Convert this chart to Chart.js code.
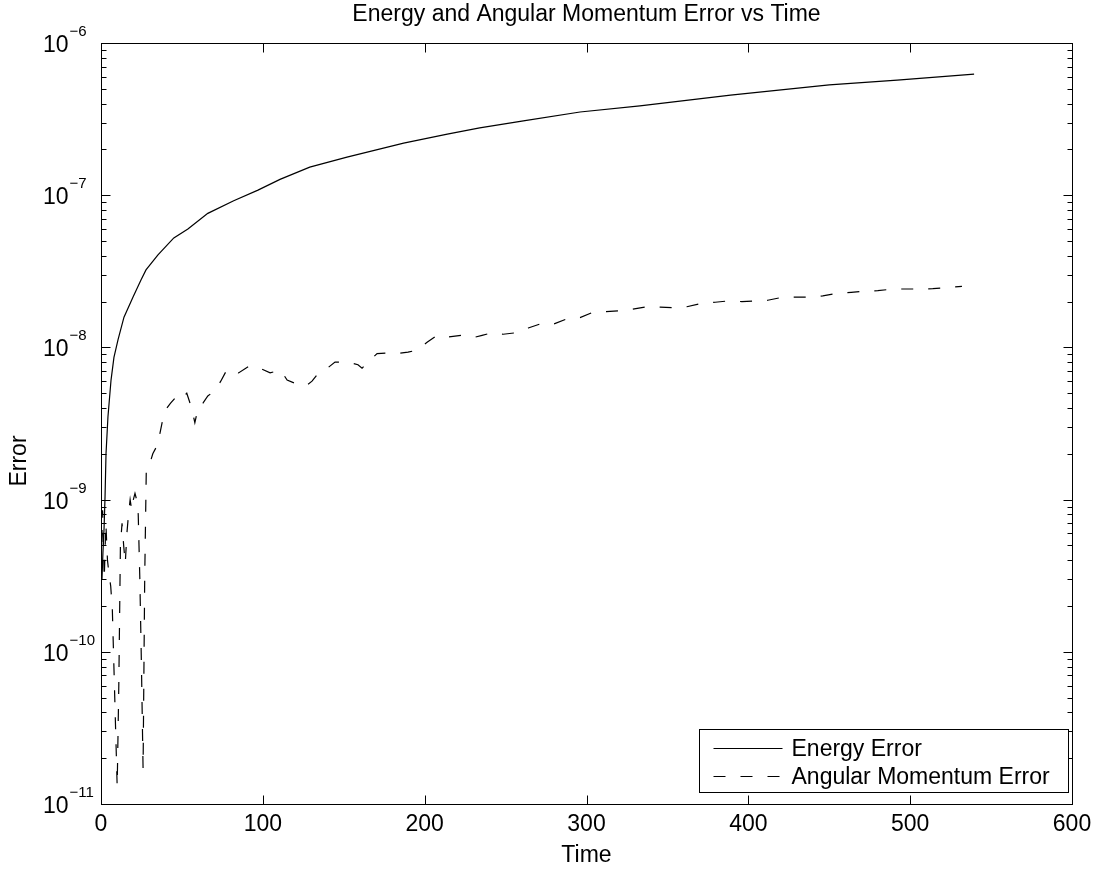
<!DOCTYPE html>
<html lang="en">
<head>
<meta charset="UTF-8">
<title>Energy and Angular Momentum Error vs Time</title>
<style>
  html, body { margin: 0; padding: 0; background: #fff; }
  #wrap { width: 1094px; height: 871px; }
</style>
</head>
<body>
<div id="wrap"><canvas id="errChart" width="1094" height="871"></canvas></div>

<script src="https://cdn.jsdelivr.net/npm/chart.js@4.4.0/dist/chart.umd.min.js"></script>
<script>
  // values
  const energyTime = [0.6, 1.2, 1.9, 2.5, 3.1, 4.3, 6.2, 8, 10.5, 14.2, 19.8, 24.7, 27.8, 35.2, 45, 53.7, 66, 82, 97,
    110.6, 129, 152, 187, 214, 234, 261, 296, 333, 389, 450, 492, 539.5];
  const energyError = [3e-10, 4.5e-10, 6.5e-10, 1.05e-9, 2.0e-9, 3.5e-9, 6.1e-9, 8.6e-9, 1.12e-8, 1.58e-8, 2.14e-8,
    2.77e-8, 3.23e-8, 4.05e-8, 5.24e-8, 6.0e-8, 7.6e-8, 9.2e-8, 1.08e-7, 1.27e-7, 1.53e-7, 1.78e-7, 2.2e-7,
    2.52e-7, 2.77e-7, 3.08e-7, 3.52e-7, 3.86e-7, 4.55e-7, 5.3e-7, 5.71e-7, 6.25e-7];

  const angTime = [0, 1, 2, 3, 4, 5, 6, 7, 8.5, 10, 11, 12, 13, 14, 15, 16, 17, 18, 19, 20, 21, 22, 23, 24, 25, 26, 27,
    28, 30, 32, 35, 38, 40, 43, 47, 50, 53, 56, 58, 60, 63, 66, 70.5, 74, 78, 85, 92, 97, 104.5, 111, 115, 120, 126.7,
    130.4, 133.5, 138.4, 144.6, 152.7, 158.8, 161.3, 163.8, 170.6, 176.8, 183, 189.7, 195.3, 201.5, 207.7, 214.5, 223,
    230, 235.5, 241.7, 248.5, 257, 264, 272.6, 279.4, 288.6, 296, 304, 321, 328, 337.5, 345.5, 354.8, 362, 371.4, 379.5,
    387.5, 396, 404.8, 412, 421.5, 430, 438, 446, 455.5, 463.5, 472.8, 480, 489.5, 497.5, 506, 514, 523.5, 532];
  const angError = [3.5e-10, 8.5e-10, 3e-10, 7e-10, 4e-10, 3.2e-10, 2.7e-10, 1.9e-10, 5e-11, 1.3e-11, 6e-11, 5e-10,
    7e-10, 5e-10, 3.8e-10, 6e-10, 8e-10, 1.0e-9, 8.5e-10, 1.0e-9, 1.1e-9, 1.0e-9, 8e-10, 3e-10, 8e-11, 1.7e-11, 3e-10,
    1.6e-9, 1.7e-9, 2.0e-9, 2.3e-9, 3.3e-9, 3.9e-9, 4.3e-9, 4.8e-9, 4.6e-9, 5.0e-9, 4.0e-9, 3.2e-9, 4.0e-9, 4.3e-9,
    4.8e-9, 5.2e-9, 6.0e-9, 7.2e-9, 6.8e-9, 7.6e-9, 7.4e-9, 6.8e-9, 7.1e-9, 6.1e-9, 5.8e-9, 5.6e-9, 6.0e-9, 6.6e-9,
    7.1e-9, 8.0e-9, 8.0e-9, 7.7e-9, 7.3e-9, 7.8e-9, 9.1e-9, 9.2e-9, 9.1e-9, 9.3e-9, 9.6e-9, 1.08e-8, 1.2e-8, 1.17e-8,
    1.2e-8, 1.16e-8, 1.2e-8, 1.25e-8, 1.22e-8, 1.25e-8, 1.34e-8, 1.44e-8, 1.42e-8, 1.55e-8, 1.57e-8, 1.7e-8, 1.74e-8,
    1.78e-8, 1.85e-8, 1.84e-8, 1.82e-8, 1.85e-8, 1.95e-8, 1.98e-8, 2.02e-8, 2.0e-8, 2.02e-8, 2.04e-8, 2.14e-8, 2.14e-8,
    2.14e-8, 2.18e-8, 2.27e-8, 2.3e-8, 2.34e-8, 2.36e-8, 2.42e-8, 2.42e-8, 2.42e-8, 2.43e-8, 2.48e-8, 2.52e-8];

  const xTicks = [0, 100, 200, 300, 400, 500, 600];
  const yExponents = [-11, -10, -9, -8, -7, -6];
  const seriesNames = ['Energy Error', 'Angular Momentum Error'];

  const FONT = "'Liberation Sans', Arial, Helvetica, sans-serif";
  const FS = 23;
  Chart.defaults.font.family = FONT;
  Chart.defaults.color = '#000';

  // matlab style box, inward ticks on all four sides, 10^n labels, y label, boxed legend
  const matlabAxes = {
    id: 'matlabAxes',
    afterDraw(chart) {
      const { ctx, chartArea: a, scales: { x, y } } = chart;
      const L = Math.round(a.left) + 0.5, R = Math.round(a.right) + 0.5;
      const T = Math.round(a.top) + 0.5, B = Math.round(a.bottom) + 0.5;
      ctx.save();
      ctx.strokeStyle = '#000';
      ctx.lineWidth = 1;
      ctx.setLineDash([]);
      ctx.strokeRect(L, T, R - L, B - T);

      ctx.beginPath();
      xTicks.forEach(v => {
        const px = Math.round(x.getPixelForValue(v)) + 0.5;
        ctx.moveTo(px, B); ctx.lineTo(px, B - 9);
        ctx.moveTo(px, T); ctx.lineTo(px, T + 9);
      });
      yExponents.forEach((p, i) => {
        for (let k = 1; k <= 9; k++) {
          if (i === yExponents.length - 1 && k > 1) break;
          const py = Math.round(y.getPixelForValue(k * Math.pow(10, p))) + 0.5;
          const len = k === 1 ? 9 : 5;
          ctx.moveTo(L, py); ctx.lineTo(L + len, py);
          ctx.moveTo(R, py); ctx.lineTo(R - len, py);
        }
      });
      ctx.stroke();

      // y tick labels: 10 with a raised exponent
      ctx.fillStyle = '#000';
      ctx.textBaseline = 'alphabetic';
      ctx.textAlign = 'left';
      yExponents.forEach(p => {
        const py = y.getPixelForValue(Math.pow(10, p));
        ctx.font = FS + 'px ' + FONT;
        const bw = ctx.measureText('10').width;
        ctx.fillText('10', 43, py + 9);
        ctx.font = '15px ' + FONT;
        ctx.fillText('\u2212' + Math.abs(p), 43 + bw + 1, py - 7);
      });

      // y axis label
      ctx.save();
      ctx.translate(20, 461);
      ctx.rotate(-Math.PI / 2);
      ctx.font = FS + 'px ' + FONT;
      ctx.textAlign = 'center';
      ctx.textBaseline = 'middle';
      ctx.fillText('Error', 0, 0);
      ctx.restore();

      // legend box in the lower right corner
      const lw = 369, lh = 63;
      const bx = Math.round(a.right - 4 - lw) + 0.5, by = Math.round(a.bottom - 12 - lh) + 0.5;
      ctx.fillStyle = '#fff';
      ctx.fillRect(bx, by, lw, lh);
      ctx.strokeRect(bx, by, lw, lh);
      ctx.font = FS + 'px ' + FONT;
      ctx.textBaseline = 'middle';
      chart.data.datasets.forEach((ds, i) => {
        const ly = Math.round(by + 18 + i * 28) + 0.5;
        ctx.beginPath();
        ctx.setLineDash(ds.borderDash || []);
        ctx.lineWidth = ds.borderWidth;
        ctx.moveTo(bx + 14, ly);
        ctx.lineTo(bx + 83, ly);
        ctx.stroke();
        ctx.setLineDash([]);
        ctx.fillStyle = '#000';
        ctx.fillText(ds.label, bx + 92, ly + 1);
      });
      ctx.restore();
    }
  };

  const ctx = document.getElementById('errChart').getContext('2d');
  const chart = new Chart(ctx, {
    type: 'line',
    data: {
      datasets: [{
        label: seriesNames[0],
        data: energyTime.map((t, i) => ({ x: t, y: energyError[i] })),
        borderColor: '#000',
        borderWidth: 1.2,
        pointRadius: 0,
        tension: 0,
        fill: false
      }, {
        label: seriesNames[1],
        data: angTime.map((t, i) => ({ x: t, y: angError[i] })),
        borderColor: '#000',
        borderWidth: 1.2,
        borderDash: [12, 15],
        pointRadius: 0,
        tension: 0,
        fill: false
      }]
    },
    options: {
      responsive: false,
      devicePixelRatio: 1,
      animation: false,
      layout: { padding: { left: 0, right: 22, top: 0, bottom: 0 } },
      plugins: {
        legend: { display: false },
        tooltip: { enabled: false },
        title: {
          display: true,
          text: 'Energy and Angular Momentum Error vs Time',
          fullSize: false,
          color: '#000',
          font: { size: FS, weight: 'normal', lineHeight: 1.2 },
          padding: { top: 1, bottom: 43 - 1 - FS * 1.2 }
        }
      },
      scales: {
        x: {
          type: 'linear',
          min: 0,
          max: 600,
          afterBuildTicks: s => { s.ticks = xTicks.map(v => ({ value: v })); },
          ticks: { font: { size: FS }, color: '#000', padding: 7, maxRotation: 0 },
          grid: { display: false, drawTicks: false },
          border: { display: false },
          title: { display: true, text: 'Time', color: '#000', font: { size: FS }, padding: { top: 0, bottom: 2 } },
          afterFit: s => { s.height = 67; s.paddingLeft = 0; s.paddingRight = 0; }
        },
        y: {
          type: 'logarithmic',
          min: 1e-11,
          max: 1e-6,
          ticks: { display: false },
          grid: { display: false, drawTicks: false },
          border: { display: false },
          afterFit: s => { s.width = 101; }
        }
      }
    },
    plugins: [matlabAxes]
  });
</script>
</body>
</html>
